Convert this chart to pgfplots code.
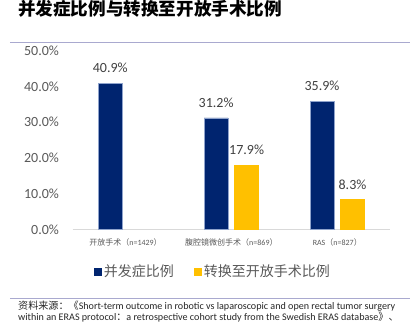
\documentclass[border=0pt]{standalone}
\usepackage{pgfplots}
\pgfplotsset{compat=1.18}
\usepackage{fontspec}
\setmainfont{Carlito}
\newfontfamily\cjk{Noto Sans CJK SC}
\definecolor{barblue}{HTML}{00246F}
\definecolor{baredge}{HTML}{8FA3CC}
\definecolor{baryellow}{HTML}{FFC000}
\definecolor{ticktext}{HTML}{595959}
\definecolor{labtext}{HTML}{404040}
\definecolor{rulecol}{HTML}{A9A9CF}
\begin{document}
\begin{tikzpicture}
\begin{scope}[x=1pt,y=-1pt,shift={(-72.6pt,229.3pt)}]
\path[use as bounding box] (0,0) rectangle (418,333);
\node[anchor=base west,inner sep=0pt,font=\fontsize{17.6}{20}\cjk\bfseries] at (18,15.5) {并发症比例与转换至开放手术比例};
\draw[rulecol,line width=1.3pt] (10,42.3) -- (410,42.3);
\draw[rulecol,line width=1.3pt] (10,298.3) -- (410,298.3);
\node[anchor=base west,inner sep=0pt,font=\fontsize{10.1}{11}\selectfont,text=black!85] at (18,309.5) {{\cjk 资料来源：《}Short-term outcome in robotic vs laparoscopic and open rectal tumor surgery};
\node[anchor=base west,inner sep=0pt,font=\fontsize{10.1}{11}\selectfont,text=black!85] at (18,320) {within an ERAS protocol{\cjk ：}a retrospective cohort study from the Swedish ERAS database{\cjk 》、}};
\end{scope}
\begin{axis}[
  scale only axis,
  width=317.6pt, height=178.5pt,
  xmin=-0.5, xmax=2.5, ymin=0, ymax=50,
  axis x line*=bottom, axis y line*=left,
  x axis line style={draw=black!15, line width=1.2pt},
  y axis line style={draw=none},
  major tick length=0pt,
  xtick={0,1,2},
  xticklabels={{\cjk 开放手术（}n=1429{\cjk ）},{\cjk 腹腔镜微创手术（}n=869{\cjk ）},RAS{\cjk （}n=827{\cjk ）}},
  xticklabel style={anchor=center, inner sep=0pt, yshift=-12.7pt, font=\fontsize{8}{9}\selectfont, text=ticktext},
  ytick={0,10,20,30,40,50},
  yticklabels={0.0\%,10.0\%,20.0\%,30.0\%,40.0\%,50.0\%},
  yticklabel style={anchor=east, inner sep=0pt, xshift=-13.5pt, font=\fontsize{14}{16}\selectfont, text=ticktext},
  ybar, bar width=24pt,
  legend image code/.code={\path[#1,draw=none] (0pt,-4pt) rectangle (8pt,4pt);},
  legend style={at={(0.442,-0.2375)}, anchor=center, draw=none, fill=none, legend columns=2,
    font=\fontsize{14}{16}\cjk, text=ticktext,
    /tikz/every even column/.append style={column sep=18pt}},
  nodes near coords={\pgfmathprintnumber[fixed,fixed zerofill,precision=1]{\pgfplotspointmeta}\%},
  /pgf/number format/assume math mode=true,
  every node near coord/.append style={anchor=base, inner sep=0pt, yshift=10.5pt, font=\fontsize{14}{16}\selectfont, text=labtext},
]
\addplot[fill=barblue, draw=baredge, line width=0.8pt, bar shift=-15.25pt] coordinates {(0,40.9) (1,31.2) (2,35.9)};
\addplot[fill=baryellow, draw=baryellow, line width=0.5pt, bar shift=15.25pt] coordinates {(1,17.9) (2,8.3)};
\legend{并发症比例,转换至开放手术比例}
\end{axis}
\end{tikzpicture}
\end{document}
